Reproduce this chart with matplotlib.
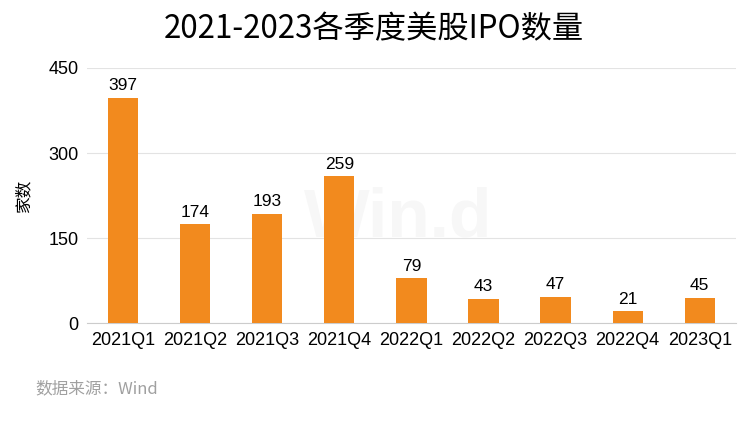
import matplotlib
matplotlib.use('Agg')
import matplotlib.pyplot as plt
import numpy as np

plt.rcParams['font.family'] = ['Noto Sans CJK SC', 'DejaVu Sans']

quarters = ['2021Q1', '2021Q2', '2021Q3', '2021Q4', '2022Q1',
            '2022Q2', '2022Q3', '2022Q4', '2023Q1']
ipo_counts = [397, 174, 193, 259, 79, 43, 47, 21, 45]
yticks = [0, 150, 300, 450]

BAR_COLOR = '#f28a1e'

fig = plt.figure(figsize=(7.47, 4.47), dpi=100)
ax = fig.add_axes([0.1165, 0.277, 0.8685, 0.571])

x = np.arange(len(quarters))
ax.bar(x, ipo_counts, width=0.42, color=BAR_COLOR, zorder=3)
for xi, v in zip(x, ipo_counts):
    ax.text(xi, v + 8, str(v), ha='center', va='bottom', fontsize=12.5,
            family=['Liberation Sans', 'DejaVu Sans'])

ax.set_xlim(-0.5, len(quarters) - 0.5)
ax.set_ylim(0, 450)
ax.set_yticks(yticks)
ax.set_yticklabels([str(t) for t in yticks], family=['Liberation Sans'], fontsize=13)
ax.set_xticks(x)
ax.set_xticklabels(quarters, family=['Liberation Sans'], fontsize=13)
ax.tick_params(axis='both', length=0, pad=6)
ax.grid(axis='y', color='#e3e3e3', linewidth=0.8, zorder=0)
for s in ['top', 'right', 'left']:
    ax.spines[s].set_visible(False)
ax.spines['bottom'].set_color('#cccccc')

ax.set_ylabel('家数', fontsize=12, labelpad=12)

# faint watermark (behind the bars)
ax.text(0.48, 0.41, 'Win.d', transform=ax.transAxes, ha='center', va='center',
        fontsize=50, fontweight='bold', color='#f7f7f7', zorder=1,
        family=['Liberation Sans'])

fig.text(0.5, 0.935, '2021-2023各季度美股IPO数量', ha='center', va='center',
         fontsize=22.5)
fig.text(0.047, 0.13, '数据来源：Wind', ha='left', va='center',
         fontsize=12, color='#a0a0a0')

fig.savefig('out.png', dpi=100, facecolor='white')
